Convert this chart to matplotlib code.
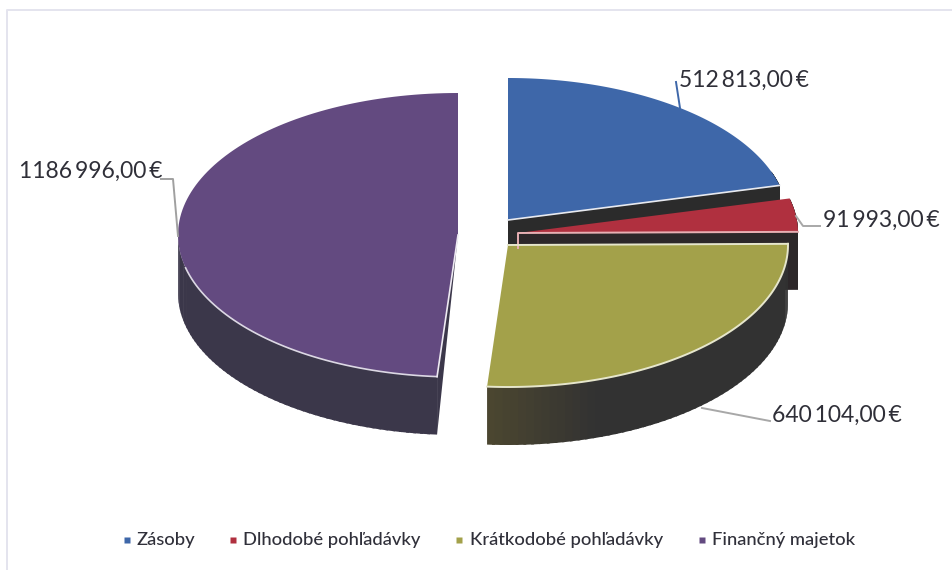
import numpy as np
import matplotlib
matplotlib.use("Agg")
import matplotlib.pyplot as plt
from matplotlib.colors import to_rgb
from matplotlib.patches import Polygon

categories = ['Zásoby', 'Dlhodobé pohľadávky', 'Krátkodobé pohľadávky', 'Finančný majetok']
values = [512813.00, 91993.00, 640104.00, 1186996.00]
value_labels = ['512\u2009813,00\u2009€', '91\u2009993,00\u2009€', '640\u2009104,00\u2009€', '1186\u2009996,00\u2009€']

top_colors = ['#3e67a9', '#b0303f', '#a3a14a', '#634a80']
edge_colors = ['#e8eaf0', '#e8b0b4', '#e6e6cc', '#dcd8e4']
rim_near = ['#2b2b2b', '#2c2729', '#4b4630', '#3b374a']
rim_far = ['#2b2b2b', '#2c2729', '#323232', '#3b374a']

# pie geometry in pixels
centers = [(508, 220), (518, 233), (508, 245), (458, 235)]
RX, RY, DEPTH = 280, 142, 58

fig = plt.figure(figsize=(9.53, 5.70), dpi=100)
ax = fig.add_axes([0, 0, 1, 1])
ax.set_xlim(0, 953)
ax.set_ylim(570, 0)
ax.axis('off')

# faint scanned frame, only left and top survive in the scan
ax.plot([7, 7, 953], [570, 9.5, 9.5], color='#e4e4ee', lw=1.4)

shares = np.array(values) / np.sum(values)
stops = np.concatenate([[0], np.cumsum(shares) * 360])


def arc(c, t0, t1, n=120):
    t = np.radians(np.linspace(t0, t1, n))
    return np.column_stack([c[0] + RX * np.sin(t), c[1] - RY * np.cos(t)])


def draw_slice(i):
    c = centers[i]
    t0, t1 = stops[i], stops[i + 1]
    pts = arc(c, t0, t1)
    down = np.array([0, DEPTH])

    # outer rim, only the part that faces us, shaded strip by strip
    lo, hi = max(t0, 70), min(t1, 270)
    if hi > lo:
        edges = np.linspace(lo, hi, 60)
        near = np.array(to_rgb(rim_near[i]))
        far = np.array(to_rgb(rim_far[i]))
        for a, b in zip(edges[:-1], edges[1:]):
            seg = arc(c, a, min(b + 0.6, hi), 4)
            # olive tint fades out away from the cut edge of the green slice
            f = np.clip((b - (t1 - 22)) / 22, 0, 1)
            col = far + (near - far) * f
            ax.add_patch(Polygon(np.vstack([seg, (seg + down)[::-1]]), fc=col, ec='none'))

    # cut faces
    apex = np.array(c, dtype=float)
    if i in (0, 1):
        face = [apex, pts[-1], pts[-1] + down, apex + down]
        ax.add_patch(Polygon(face, fc=rim_near[i], ec='none'))
    if i == 3:
        face = [apex, pts[0], pts[0] + down]
        ax.add_patch(Polygon(face, fc=rim_near[i], ec='none'))

    # top surface
    top = np.vstack([[apex], pts])
    ax.add_patch(Polygon(top, fc=top_colors[i], ec='none'))
    return apex, pts


for i in [3, 0, 1, 2]:
    apex, pts = draw_slice(i)
    col = edge_colors[i]
    if i == 0:
        ax.plot([apex[0], pts[-1][0]], [apex[1], pts[-1][1]], color=col, lw=1.2)
    elif i == 1:
        ax.plot([apex[0], apex[0], pts[-1][0]], [apex[1] + 15, apex[1], pts[-1][1]], color=col, lw=1.4)
    elif i == 2:
        ax.plot(pts[:, 0], pts[:, 1], color=col, lw=1.4)
        ax.plot([apex[0], pts[0][0]], [apex[1], pts[0][1]], color=col, lw=1.4)
    else:
        ax.plot(pts[:50, 0], pts[:50, 1], color=col, lw=1.2)
        ax.plot([apex[0], pts[0][0]], [apex[1], pts[0][1]], color='#eeeaf2', lw=1.2)

# leader lines
ax.plot([676, 680], [82, 108], color='#3e67a9', lw=1.4)
ax.plot([796, 803, 820], [216, 226, 226], color='#a8a8a8', lw=1.4)
ax.plot([702, 770], [408, 421], color='#a8a8a8', lw=1.4)
ax.plot([161, 173, 178], [179, 179, 236], color='#a0a0a0', lw=1.4)

# value labels
label_pos = [(679, 80), (823, 220), (772, 415), (19, 171)]
for (x, y), txt in zip(label_pos, value_labels):
    ax.text(x, y, txt, fontsize=16.5, family=['Lato', 'DejaVu Sans'], color='#2f2f38', va='center', ha='left')

# legend
legend_marker_x = [127, 233, 459, 702]
legend_text_x = [136, 243, 470, 712]
for mx, tx, col, name in zip(legend_marker_x, legend_text_x, top_colors, categories):
    ax.plot(mx, 540, marker='s', ms=4, color=col, mec='none')
    ax.text(tx, 540, name, fontsize=13.2, family='Lato', fontweight='medium', color='#30303a',
            va='center', ha='left')

fig.savefig('out.png', dpi=100, facecolor='white')
